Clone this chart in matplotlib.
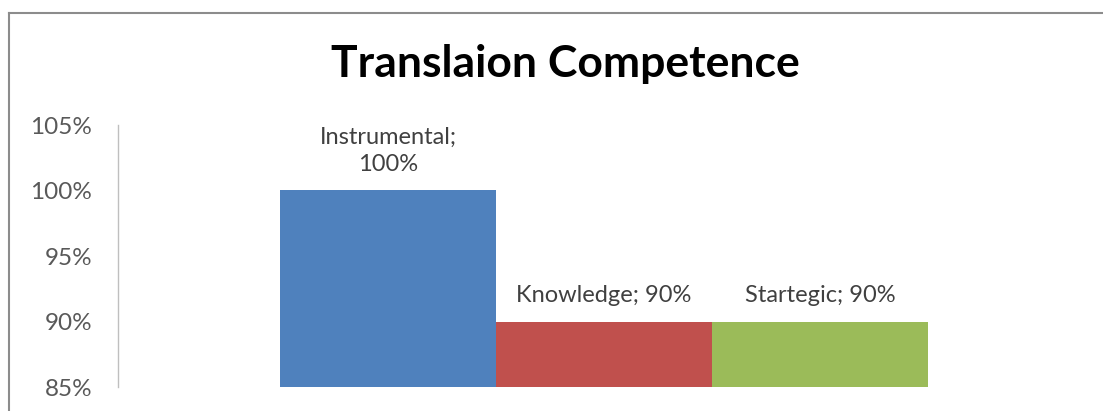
import matplotlib
matplotlib.use("Agg")
import matplotlib.pyplot as plt
from matplotlib.lines import Line2D

# Chart data
categories = ["Instrumental", "Knowledge", "Startegic"]
values = [100, 90, 90]
bar_colors = ["#4F81BD", "#C0504D", "#9BBB59"]
y_ticks = [85, 90, 95, 100, 105]
y_tick_labels = ["85%", "90%", "95%", "100%", "105%"]
title = "Translaion Competence"

FONT = ["Lato", "DejaVu Sans"]

W, H = 1103, 411
fig = plt.figure(figsize=(W / 100, H / 100), dpi=100)
fig.patch.set_facecolor("white")

# Plot area in pixel coordinates
left_px, right_px, top_px, bottom_px = 118, 1090, 125, 387
ax = fig.add_axes([left_px / W, 1 - bottom_px / H,
                   (right_px - left_px) / W, (bottom_px - top_px) / H])

# Three series in one category, gap width 150% of a bar
n = len(categories)
positions = [i - (n - 1) / 2 for i in range(n)]
ax.bar(positions, [v - 85 for v in values], bottom=85, width=1.0,
       color=bar_colors, edgecolor="none")
half = (n + 1.5) / 2
ax.set_xlim(-half, half)
ax.set_ylim(85, 105)

ax.set_yticks(y_ticks)
ax.set_yticklabels(y_tick_labels, fontfamily=FONT, fontsize=17.5, color="#595959")
ax.tick_params(axis="y", length=0, pad=18.5)
ax.set_xticks([])
for side in ["top", "right", "bottom"]:
    ax.spines[side].set_visible(False)
ax.spines["left"].set_color("#BFBFBF")
ax.spines["left"].set_linewidth(1.0)

# Data labels
for x, cat, v in zip(positions, categories, values):
    text = f"{cat};\n{v}%" if v >= 100 else f"{cat}; {v}%"
    ax.annotate(text, xy=(x, v), xytext=(0, 11), textcoords="offset points",
                ha="center", va="bottom", fontsize=17, color="#404040",
                fontfamily=FONT, linespacing=1.35)

fig.text(565 / W, 1 - 64 / H, title, ha="center", va="center",
         fontsize=32, fontweight="bold", color="black", fontfamily=FONT)

# Chart frame (top and left edges visible)
fig.add_artist(Line2D([9 / W, 9 / W], [0, 1 - 13 / H], transform=fig.transFigure,
                      color="#8C8C8C", linewidth=1.5))
fig.add_artist(Line2D([9 / W, 1], [1 - 13 / H, 1 - 13 / H], transform=fig.transFigure,
                      color="#8C8C8C", linewidth=1.5))

fig.savefig("out.png", dpi=100, facecolor="white")
